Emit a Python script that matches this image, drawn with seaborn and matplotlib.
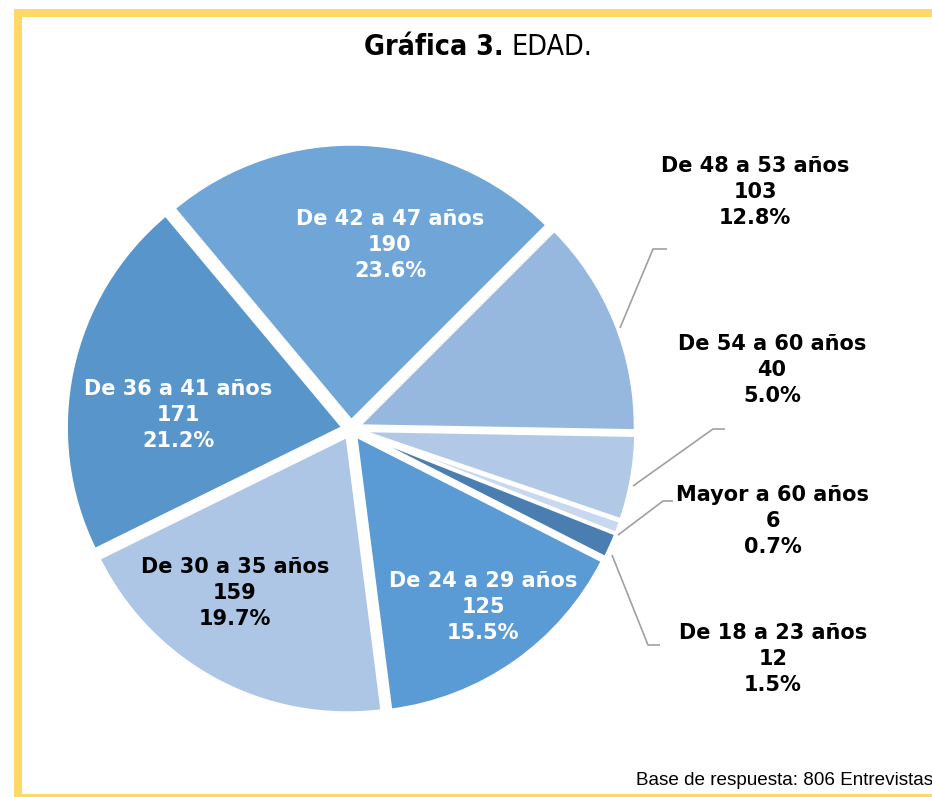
import matplotlib
matplotlib.use("Agg")
import matplotlib.pyplot as plt
import seaborn as sns
from matplotlib.patches import Rectangle

# ---- data ----
categories = ["De 48 a 53 años", "De 54 a 60 años", "Mayor a 60 años", "De 18 a 23 años",
              "De 24 a 29 años", "De 30 a 35 años", "De 36 a 41 años", "De 42 a 47 años"]
counts = [103, 40, 6, 12, 125, 159, 171, 190]
percents = ["12.8%", "5.0%", "0.7%", "1.5%", "15.5%", "19.7%", "21.2%", "23.6%"]
colors = ["#96b8de", "#b1c9e7", "#c7d8ef", "#4a7eb0", "#5a9bd5", "#adc6e6", "#5795cb", "#6fa5d7"]
title_bold = "Gráfica 3."
title_rest = "EDAD."
footnote = "Base de respuesta: 806 Entrevistas"

sns.set_theme(style="white")
plt.rcParams["font.family"] = ["DejaVu Sans"]

W, H = 932, 797
fig = plt.figure(figsize=(W / 100, H / 100), dpi=100)
ax = fig.add_axes([0, 0, 1, 1])


def Y(y):
    return H - y


# pie (explode is given in data units = pixels here)
cx, cy, r = 351, 429, 277
ax.pie(counts, colors=colors, startangle=45, counterclock=False,
       center=(cx, Y(cy)), radius=r, explode=[8] * len(counts),
       wedgeprops=dict(edgecolor="white", linewidth=2.5), frame=True)
ax.set_xlim(0, W)
ax.set_ylim(0, H)
ax.axis("off")

# frame
yellow = "#ffd966"
ax.add_patch(Rectangle((14, Y(797)), 8, 797 - 9, color=yellow, lw=0))
ax.add_patch(Rectangle((14, Y(17)), W - 14, 8, color=yellow, lw=0))
ax.add_patch(Rectangle((14, Y(797)), W - 14, 3.5, color=yellow, lw=0))

# labels
label_pos = [(755, 192), (772, 370), (773, 521), (773, 659),
             (483, 607), (235, 593), (178, 415), (390, 245)]
text_colors = ["black", "black", "black", "black", "white", "black", "white", "white"]
for cat, n, p, (lx, ly), tc in zip(categories, counts, percents, label_pos, text_colors):
    ax.text(lx, Y(ly), f"{cat}\n{n}\n{p}", ha="center", va="center",
            fontsize=15, fontweight="bold", color=tc, linespacing=1.38)

# leader lines
gray = "#a0a0a0"
leaders = [
    [(620, 328), (653, 249), (667, 249)],
    [(633, 486), (713, 429), (725, 429)],
    [(618, 535), (663, 501), (673, 501)],
    [(612, 555), (648, 645), (660, 645)],
]
for pts in leaders:
    ax.plot([p[0] for p in pts], [Y(p[1]) for p in pts], color=gray, lw=1.2,
            solid_capstyle="butt")

# title
ax.text(504, Y(55), title_bold, ha="right", va="baseline", fontsize=20.5,
        fontweight="bold", family=["DejaVu Sans"], fontstretch="condensed",
        color="black")
ax.text(512, Y(55), title_rest, ha="left", va="baseline", fontsize=20.5,
        fontweight="normal", family=["DejaVu Sans"], fontstretch="condensed",
        color="black")

# footnote
ax.text(636, Y(785), footnote, ha="left", va="baseline", fontsize=13.6,
        family=["Liberation Sans", "DejaVu Sans"], color="black", clip_on=True)

fig.savefig("out.png", dpi=100)
